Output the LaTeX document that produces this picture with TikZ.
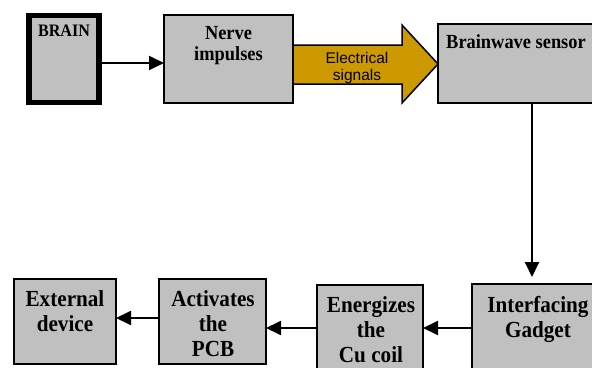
\documentclass[tikz,border=0pt]{standalone}
\usepackage{fontspec}
\setmainfont[FakeStretch=0.92]{Liberation Serif}
\setsansfont{Liberation Sans}
\usetikzlibrary{arrows.meta}
\definecolor{boxgray}{HTML}{C0C0C0}
\definecolor{signalgold}{HTML}{CC9900}
\begin{document}
\begin{tikzpicture}[x=1pt,y=-1pt,
  box/.style={draw=black, line width=1.5pt, fill=boxgray, inner sep=0pt, outer sep=0pt, anchor=north west},
  toplbl/.style={font=\bfseries\fontsize{20}{21}\selectfont, align=center, anchor=north, inner sep=0pt},
  botlbl/.style={font=\bfseries\fontsize{23}{25}\selectfont, align=center, anchor=north, inner sep=0pt},
  arr/.style={line width=2pt, -{Triangle[length=15pt,width=14pt]}}]
\clip (0,0) rectangle (592,367);
\fill[white] (0,0) rectangle (592,367);
% top row
\node[box, line width=5.7pt, minimum width=70pt, minimum height=87pt] (brain) at (29,15.5) {};
\node[font=\bfseries\fontsize{17.5}{19}\selectfont, anchor=north, inner sep=0pt] (braint) at (64,25) {BRAIN};
\node[box, minimum width=129pt, minimum height=88pt] (nerve) at (164,15) {};
\node[toplbl] (nervet) at (228.5,26) {Nerve\\impulses};
\node[box, minimum width=170pt, minimum height=79pt] (sensor) at (438,24) {};
\node[toplbl] (sensort) at (516,34) {Brainwave sensor};
% signal arrow
\draw[line width=1.5pt, fill=signalgold, line join=miter]
  (nerve.east |- 0,45) -- (402,45) -- (402,25) -- (sensor.west |- 0,64) -- (402,103) -- (402,84) -- (nerve.east |- 0,84) -- cycle;
\node[font=\sffamily\fontsize{15.5}{17}\selectfont, align=center, anchor=north, inner sep=0pt] (sigt) at (357,52) {Electrical\\signals};
% bottom row
\node[box, minimum width=102pt, minimum height=85pt] (ext) at (14,279) {};
\node[botlbl] (extt) at (65,290) {External\\device};
\node[box, minimum width=107pt, minimum height=85pt] (act) at (159,279) {};
\node[botlbl] (actt) at (213,290) {Activates\\the\\PCB};
\node[box, minimum width=106pt, minimum height=95pt] (energ) at (317,285) {};
\node[botlbl] (energt) at (371,296) {Energizes\\the\\Cu coil};
\node[box, minimum width=140pt, minimum height=95pt] (inter) at (472,284) {};
\node[botlbl] (intert) at (538,296) {Interfacing\\Gadget};
% connectors
\draw[arr] (brain.east |- 0,63) -- (nerve.west |- 0,63);
\coordinate (vend) at (532,277);
\draw[arr] (sensor.south -| vend) -- (vend);
\draw[arr] (inter.west |- 0,328) -- (energ.east |- 0,328);
\draw[arr] (energ.west |- 0,328) -- (act.east |- 0,328);
\draw[arr] (act.west |- 0,318) -- (ext.east |- 0,318);
\end{tikzpicture}
\end{document}
